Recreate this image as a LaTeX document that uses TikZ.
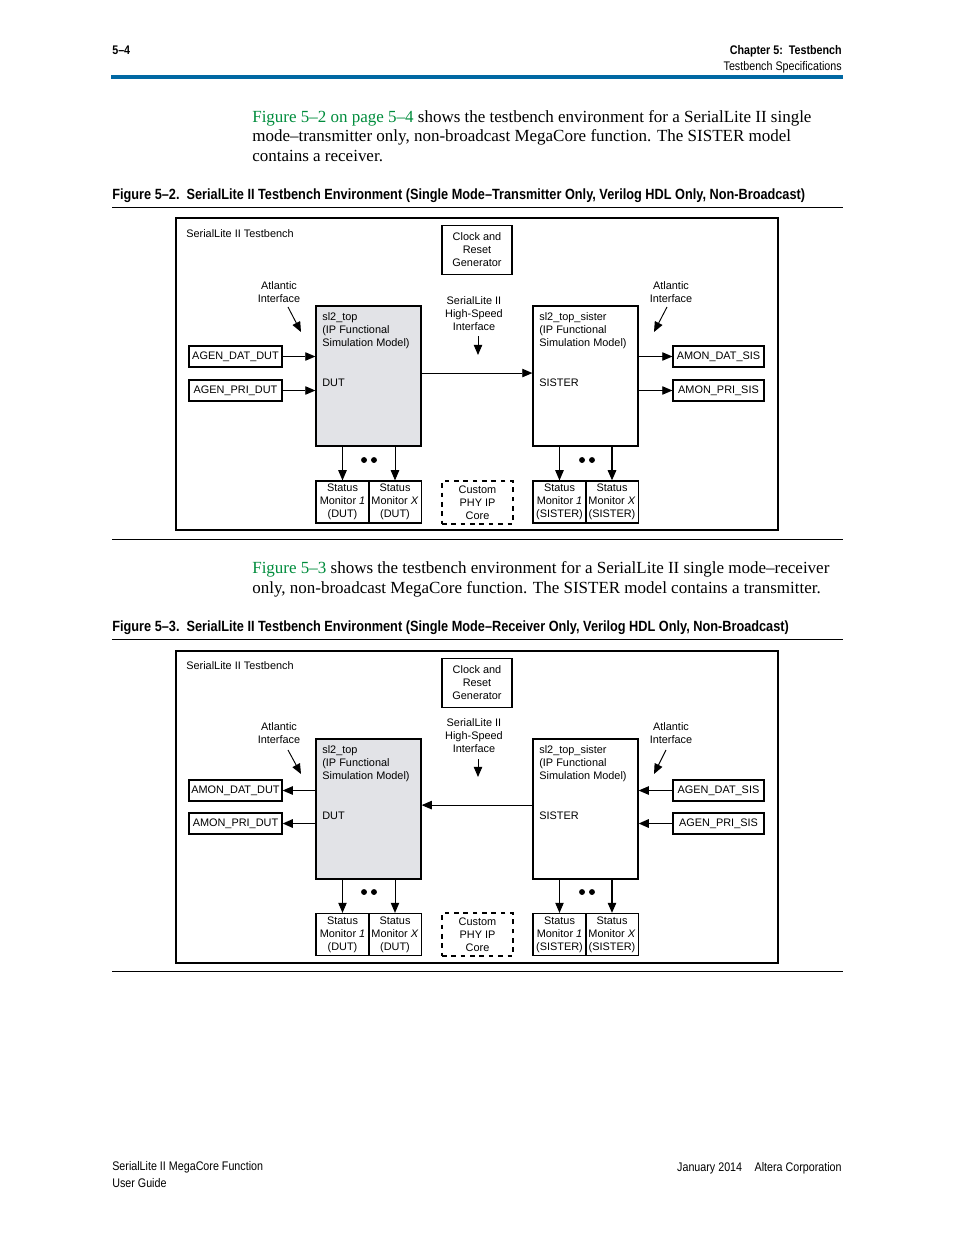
\documentclass[tikz,border=0pt]{standalone}
\usepackage{fontspec}
\setmainfont{Liberation Serif}
\newfontfamily\diagfam{Liberation Sans}
\newfontfamily\condfam[FakeStretch=0.86]{Liberation Sans}
\usetikzlibrary{arrows.meta, positioning}

\definecolor{hdrblue}{RGB}{0,104,163}
\definecolor{linkgreen}{RGB}{0,140,60}
\definecolor{dutgray}{RGB}{226,227,231}

\begin{document}
\begin{tikzpicture}[x=0.6415pt, y=-0.6415pt,
        txt/.style={font=\diagfam\fontsize{7}{8.3}\selectfont, inner sep=0pt, align=center},
        box/.style={draw, line width=0.75pt, font=\diagfam\fontsize{7}{8.3}\selectfont, inner sep=0pt, align=center},
        iobox/.style={box, minimum width=59.7pt, minimum height=13.5pt},
        mon/.style={box, minimum width=34pt, minimum height=27pt},
        model/.style={draw, line width=0.75pt, minimum width=67.4pt, minimum height=89.8pt, inner sep=0pt},
        frame/.style={draw, line width=0.8pt, minimum width=386.2pt, minimum height=200.2pt, inner sep=0pt},
        arr/.style={-{Triangle[length=6.5pt, width=5.4pt]}, line width=0.6pt},
        thk/.style={line width=1pt},
        body/.style={font=\fontsize{10.9}{12.5}\selectfont, inner sep=0pt, align=left},
        captxt/.style={font=\condfam\bfseries\fontsize{9.5}{11}\selectfont, inner sep=0pt},
        hdr/.style={font=\condfam\fontsize{8}{10.3}\selectfont, inner sep=0pt}
    ]
    \useasboundingbox (0,0) rectangle (954,1235);

    % page header
    \node[hdr, font=\condfam\bfseries\fontsize{8}{10}\selectfont, anchor=base west] (pgnum) at (112,54) {5–4};
    \node[hdr, font=\condfam\bfseries\fontsize{8}{10}\selectfont, anchor=base east] (chap) at (842,54) {Chapter 5:\ \ Testbench};
    \node[hdr, anchor=base east] (sect) at (842,70) {Testbench Specifications};
    \draw[hdrblue, line width=2pt] (111,77) -- (843,77);

    % text before figure 5-2 (base = last line)
    \node[body, anchor=base west] (para1) at (252,161)
        {\textcolor{linkgreen}{Figure 5–2 on page 5–4} shows the testbench environment for a SerialLite II single\\
         mode–transmitter only, non-broadcast MegaCore function. The SISTER model\\
         contains a receiver.};
    \node[captxt, anchor=base west] (cap2) at (112,199)
        {Figure 5–2.\ \ SerialLite II Testbench Environment (Single Mode–Transmitter Only, Verilog HDL Only, Non-Broadcast)};
    \draw[line width=0.6pt] (112,207) -- (843,207);

    % ---- Figure 5-2 ----
    \node[frame] (tbA) at (477,374) {};
    \node[txt, anchor=west] (tbAname) at (186,234) {SerialLite II Testbench};
    \node[box, minimum width=44.9pt, minimum height=31.4pt] (clkA) at (477,250) {Clock and\\Reset\\Generator};

    \node[model, fill=dutgray] (dutA) at (368.5,376) {};
    \node[txt, anchor=west, align=left] (dutAtxt) at (322,331) {sl2\_top\\(IP Functional\\Simulation Model)};
    \node[txt, anchor=west] (dutAlbl) at (322,383) {DUT};
    \node[model] (sisA) at (585.5,376) {};
    \node[txt, anchor=west, align=left] (sisAtxt) at (539,331) {sl2\_top\_sister\\(IP Functional\\Simulation Model)};
    \node[txt, anchor=west] (sisAlbl) at (539,383) {SISTER};

    \node[iobox] (agdatA) at (235.5,356.5) {AGEN\_DAT\_DUT};
    \node[iobox] (agpriA) at (235.5,390.5) {AGEN\_PRI\_DUT};
    \node[iobox, minimum width=58.4pt] (amdatA) at (718.5,356.5) {AMON\_DAT\_SIS};
    \node[iobox, minimum width=58.4pt] (ampriA) at (718.5,390.5) {AMON\_PRI\_SIS};

    \node[txt] (atlAl) at (279,292.5) {Atlantic\\Interface};
    \node[txt] (atlAr) at (671,292.5) {Atlantic\\Interface};
    \node[txt] (hsA) at (474,313.5) {SerialLite II\\High-Speed\\Interface};
    \coordinate (atlAls) at (288,307); \coordinate (atlAle) at (301,332);
    \coordinate (atlArs) at (667,307); \coordinate (atlAre) at (654,332);
    \coordinate (hsAs) at (478,336); \coordinate (hsAe) at (478,355);

    \node[mon] (monA1) at (342.5,502) {Status\\Monitor \textit{1}\\(DUT)};
    \node[mon] (monAx) at (395,502) {Status\\Monitor \textit{X}\\(DUT)};
    \node[box, dashed, minimum width=45.5pt, minimum height=27.6pt] (phyA) at (477.5,502.5) {Custom\\PHY IP\\Core};
    \node[mon] (smonA1) at (559.5,502) {Status\\Monitor \textit{1}\\(SISTER)};
    \node[mon] (smonAx) at (612,502) {Status\\Monitor \textit{X}\\(SISTER)};
    \coordinate (dotsA) at (369,460);
    \coordinate (sdotsA) at (587,460);

    \draw[arr] (agdatA.east) -- (agdatA.east -| dutA.west);
    \draw[arr] (agpriA.east) -- (agpriA.east -| dutA.west);
    \draw[arr] ([yshift=1.9pt]dutA.east) -- ([yshift=1.9pt]sisA.west);
    \draw[arr] (amdatA.west -| sisA.east) -- (amdatA.west);
    \draw[arr] (ampriA.west -| sisA.east) -- (ampriA.west);
    \draw[arr] (atlAls) -- (atlAle);
    \draw[arr] (atlArs) -- (atlAre);
    \draw[arr] (hsAs) -- (hsAe);
    \draw[arr] (monA1.north |- dutA.south) -- (monA1.north);
    \draw[arr] (monAx.north |- dutA.south) -- (monAx.north);
    \draw[arr] (smonA1.north |- sisA.south) -- (smonA1.north);
    \draw[arr, thk] (smonAx.north |- sisA.south) -- (smonAx.north);
    \fill ([xshift=-3.2pt]dotsA) circle[radius=1.9pt] ([xshift=3.2pt]dotsA) circle[radius=1.9pt];
    \fill ([xshift=-3.2pt]sdotsA) circle[radius=1.9pt] ([xshift=3.2pt]sdotsA) circle[radius=1.9pt];

    \draw[line width=0.6pt] (112,539) -- (843,539);

    % text before figure 5-3 (base = last line)
    \node[body, anchor=base west] (para2) at (252,593)
        {\textcolor{linkgreen}{Figure 5–3} shows the testbench environment for a SerialLite II single mode–receiver\\
         only, non-broadcast MegaCore function. The SISTER model contains a transmitter.};
    \node[captxt, anchor=base west] (cap3) at (112,631)
        {Figure 5–3.\ \ SerialLite II Testbench Environment (Single Mode–Receiver Only, Verilog HDL Only, Non-Broadcast)};
    \draw[line width=0.6pt] (112,639) -- (843,639);

    % ---- Figure 5-3 ----
    \node[frame] (tbB) at (477,807) {};
    \node[txt, anchor=west] (tbBname) at (186,666) {SerialLite II Testbench};
    \node[box, minimum width=44.9pt, minimum height=31.4pt] (clkB) at (477,683) {Clock and\\Reset\\Generator};

    \node[model, fill=dutgray] (dutB) at (368.5,809) {};
    \node[txt, anchor=west, align=left] (dutBtxt) at (322,764) {sl2\_top\\(IP Functional\\Simulation Model)};
    \node[txt, anchor=west] (dutBlbl) at (322,816) {DUT};
    \node[model] (sisB) at (585.5,809) {};
    \node[txt, anchor=west, align=left] (sisBtxt) at (539,764) {sl2\_top\_sister\\(IP Functional\\Simulation Model)};
    \node[txt, anchor=west] (sisBlbl) at (539,816) {SISTER};

    \node[iobox] (amdatB) at (235.5,790.5) {AMON\_DAT\_DUT};
    \node[iobox] (ampriB) at (235.5,823.5) {AMON\_PRI\_DUT};
    \node[iobox, minimum width=58.4pt] (agdatB) at (718.5,790.5) {AGEN\_DAT\_SIS};
    \node[iobox, minimum width=58.4pt] (agpriB) at (718.5,823.5) {AGEN\_PRI\_SIS};

    \node[txt] (atlBl) at (279,733.5) {Atlantic\\Interface};
    \node[txt] (atlBr) at (671,733.5) {Atlantic\\Interface};
    \node[txt] (hsB) at (474,735.5) {SerialLite II\\High-Speed\\Interface};
    \coordinate (atlBls) at (288,750); \coordinate (atlBle) at (301,774);
    \coordinate (atlBrs) at (666,750); \coordinate (atlBre) at (654,774);
    \coordinate (hsBs) at (478,759); \coordinate (hsBe) at (478,777);

    \node[mon] (monB1) at (342.5,934.5) {Status\\Monitor \textit{1}\\(DUT)};
    \node[mon] (monBx) at (395,934.5) {Status\\Monitor \textit{X}\\(DUT)};
    \node[box, dashed, minimum width=45.5pt, minimum height=27.6pt] (phyB) at (477.5,934.5) {Custom\\PHY IP\\Core};
    \node[mon] (smonB1) at (559.5,934.5) {Status\\Monitor \textit{1}\\(SISTER)};
    \node[mon] (smonBx) at (612,934.5) {Status\\Monitor \textit{X}\\(SISTER)};
    \coordinate (dotsB) at (369,892);
    \coordinate (sdotsB) at (587,892);

    \draw[arr] (amdatB.east -| dutB.west) -- (amdatB.east);
    \draw[arr, thk] (ampriB.east -| dutB.west) -- (ampriB.east);
    \draw[arr] ([yshift=2.5pt]sisB.west) -- ([yshift=2.5pt]dutB.east);
    \draw[arr] (agdatB.west) -- (agdatB.west -| sisB.east);
    \draw[arr, thk] (agpriB.west) -- (agpriB.west -| sisB.east);
    \draw[arr] (atlBls) -- (atlBle);
    \draw[arr] (atlBrs) -- (atlBre);
    \draw[arr] (hsBs) -- (hsBe);
    \draw[arr] (monB1.north |- dutB.south) -- (monB1.north);
    \draw[arr] (monBx.north |- dutB.south) -- (monBx.north);
    \draw[arr] (smonB1.north |- sisB.south) -- (smonB1.north);
    \draw[arr, thk] (smonBx.north |- sisB.south) -- (smonBx.north);
    \fill ([xshift=-3.2pt]dotsB) circle[radius=1.9pt] ([xshift=3.2pt]dotsB) circle[radius=1.9pt];
    \fill ([xshift=-3.2pt]sdotsB) circle[radius=1.9pt] ([xshift=3.2pt]sdotsB) circle[radius=1.9pt];

    \draw[line width=0.6pt] (112,971) -- (843,971);

    % page footer (base = last line)
    \node[hdr, anchor=base west, align=left] (foot) at (112,1187) {SerialLite II MegaCore Function\\User Guide};
    \node[hdr, anchor=base east] (date) at (842,1171) {January 2014\quad Altera Corporation};
\end{tikzpicture}
\end{document}
